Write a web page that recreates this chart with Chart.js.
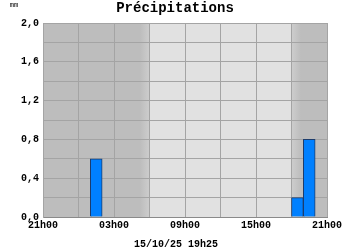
<!DOCTYPE html>
<html lang="fr">
<head>
    <meta charset="UTF-8">
    <title>Précipitations</title>
    <script src="https://cdn.jsdelivr.net/npm/chart.js"></script>
    <style>
        html, body { margin: 0; padding: 0; background: #ffffff; }
        #wrap { width: 350px; height: 250px; }
    </style>
</head>
<body>
    <div id="wrap"><canvas id="pluie" width="350" height="250"></canvas></div>

    <script>
        // heures de début de chaque tranche (de 21h00 à 20h00)
        const heures = ['21h', '22h', '23h', '00h', '01h', '02h', '03h', '04h', '05h', '06h', '07h', '08h',
                        '09h', '10h', '11h', '12h', '13h', '14h', '15h', '16h', '17h', '18h', '19h', '20h'];
        // cumul horaire en mm
        const pluie = [0, 0, 0, 0, 0.6, 0, 0, 0, 0, 0, 0, 0,
                       0, 0, 0, 0, 0, 0, 0, 0, 0, 0.2, 0.8, 0];
        // libellés de l'axe horizontal (toutes les 6 heures)
        const etiquettesX = ['21h00', '03h00', '09h00', '15h00', '21h00'];
        const titre = 'Précipitations';
        const unite = 'mm';
        const horodatage = '15/10/25 19h25';

        const police = '"Liberation Mono", "Courier New", monospace';

        // fond jour / nuit
        const fondJourNuit = {
            id: 'fondJourNuit',
            beforeDraw(chart) {
                const { ctx, chartArea: a, scales } = chart;
                const px = v => scales.x.getPixelForValue(v);
                const sombre = '#bdbdbd', clair = '#e1e1e1';
                ctx.save();
                ctx.fillStyle = sombre;
                ctx.fillRect(a.left, a.top, a.right - a.left, a.bottom - a.top);
                // aube
                let g = ctx.createLinearGradient(px(8.2), 0, px(9), 0);
                g.addColorStop(0, sombre);
                g.addColorStop(1, '#cdcdcd');
                ctx.fillStyle = g;
                ctx.fillRect(px(8.2), a.top, px(9) - px(8.2), a.bottom - a.top);
                ctx.fillStyle = clair;
                ctx.fillRect(px(9), a.top, px(21) - px(9), a.bottom - a.top);
                // crépuscule
                g = ctx.createLinearGradient(px(21), 0, px(21.8), 0);
                g.addColorStop(0, '#cdcdcd');
                g.addColorStop(1, sombre);
                ctx.fillStyle = g;
                ctx.fillRect(px(21), a.top, px(21.8) - px(21), a.bottom - a.top);
                ctx.restore();
            }
        };

        // textes hors graphique
        const textes = {
            id: 'textes',
            afterDraw(chart) {
                const ctx = chart.ctx;
                ctx.save();
                ctx.fillStyle = '#000';
                ctx.textBaseline = 'middle';
                ctx.textAlign = 'center';
                ctx.font = 'bold 14px ' + police;
                ctx.fillText(titre, 175, 8);
                ctx.font = '7px ' + police;
                ctx.fillText(unite, 14, 5);
                ctx.font = 'bold 10px ' + police;
                ctx.fillText(horodatage, 176, 244);
                ctx.restore();
            }
        };

        const ctx = document.getElementById('pluie').getContext('2d');
        new Chart(ctx, {
            type: 'bar',
            data: {
                datasets: [{
                    label: titre,
                    data: pluie.map((v, i) => ({ x: i + 0.5, y: v, h: heures[i] })),
                    backgroundColor: '#0080ff',
                    borderColor: '#1c3c6c',
                    borderWidth: 1,
                    barPercentage: 1,
                    categoryPercentage: 1
                }]
            },
            options: {
                responsive: false,
                animation: false,
                layout: { padding: { left: 0, top: 23, right: 23, bottom: 0 } },
                plugins: {
                    legend: { display: false },
                    title: { display: false },
                    tooltip: { enabled: false }
                },
                scales: {
                    x: {
                        type: 'linear',
                        min: 0,
                        max: 24,
                        offset: false,
                        afterFit: s => { s.height = 33; },
                        grid: { color: '#a4a4a4', drawTicks: false, offset: false },
                        border: { color: '#8a8a8a' },
                        ticks: {
                            stepSize: 3,
                            padding: 2,
                            maxRotation: 0,
                            autoSkip: false,
                            color: '#000',
                            font: { family: police, size: 10, weight: 'bold' },
                            callback: v => (v % 6 === 0 ? etiquettesX[v / 6] : '')
                        }
                    },
                    y: {
                        min: 0,
                        max: 2,
                        afterFit: s => { s.width = 43; },
                        grid: { color: '#a4a4a4', drawTicks: false },
                        border: { color: '#a4a4a4' },
                        ticks: {
                            stepSize: 0.2,
                            padding: 4,
                            color: '#000',
                            font: { family: police, size: 10, weight: 'bold' },
                            callback: v => {
                                const k = Math.round(v * 10);
                                return k % 4 === 0 ? (k / 10).toFixed(1).replace('.', ',') : '';
                            }
                        }
                    }
                }
            },
            plugins: [fondJourNuit, textes]
        });
    </script>
</body>
</html>
